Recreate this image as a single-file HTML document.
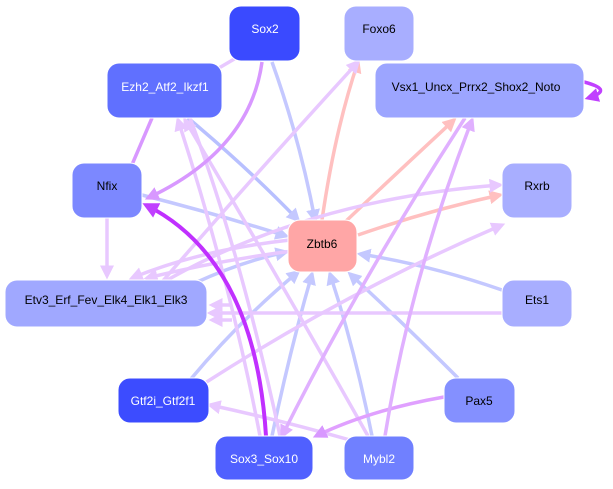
<!DOCTYPE html>
<html><head><style>
html,body{margin:0;padding:0;background:#fff;width:613px;height:489px;overflow:hidden}
svg{display:block}
text{font-family:"Liberation Sans",sans-serif;font-size:12px;text-anchor:middle;dominant-baseline:central}
</style></head><body>
<svg width="613" height="489" viewBox="0 0 613 489">
<defs>
<marker id="a1" markerWidth="4" markerHeight="4" refX="3" refY="2" orient="auto" markerUnits="strokeWidth"><path d="M0,0L4,2L0,4z" fill="#c4c8ff"/></marker>
<marker id="a2" markerWidth="4" markerHeight="4" refX="3" refY="2" orient="auto" markerUnits="strokeWidth"><path d="M0,0L4,2L0,4z" fill="#e8c8ff"/></marker>
<marker id="a3" markerWidth="4" markerHeight="4" refX="3" refY="2" orient="auto" markerUnits="strokeWidth"><path d="M0,0L4,2L0,4z" fill="#ffc0c0"/></marker>
<marker id="a4" markerWidth="4" markerHeight="4" refX="3" refY="2" orient="auto" markerUnits="strokeWidth"><path d="M0,0L4,2L0,4z" fill="#d898ff"/></marker>
<marker id="a5" markerWidth="4" markerHeight="4" refX="3" refY="2" orient="auto" markerUnits="strokeWidth"><path d="M0,0L4,2L0,4z" fill="#c040ff"/></marker>
<marker id="a6" markerWidth="4" markerHeight="4" refX="3" refY="2" orient="auto" markerUnits="strokeWidth"><path d="M0,0L4,2L0,4z" fill="#e0b0ff"/></marker>
</defs>
<g fill="none" stroke-width="3.5">
<path d="M272,62 Q300,140 315,220" stroke="#c4c8ff" marker-end="url(#a1)"/>
<path d="M188,118 Q250,170 298,220" stroke="#b8c0ff" marker-end="url(#a1)"/>
<path d="M142,195 Q220,215 286,236" stroke="#c4c8ff" marker-end="url(#a1)"/>
<path d="M502,290 Q430,265 360,254" stroke="#c4c8ff" marker-end="url(#a1)"/>
<path d="M195,283 Q240,262 286,252" stroke="#c4c8ff" marker-end="url(#a1)"/>
<path d="M190,380 Q240,320 298,272" stroke="#c4c8ff" marker-end="url(#a1)"/>
<path d="M272,436 Q290,350 312,274" stroke="#c4c8ff" marker-end="url(#a1)"/>
<path d="M372,436 Q355,350 330,274" stroke="#c4c8ff" marker-end="url(#a1)"/>
<path d="M458,378 Q400,320 350,274" stroke="#c4c8ff" marker-end="url(#a1)"/>
<path d="M322,220 Q335,130 358,62" stroke="#ffc0c0" marker-end="url(#a3)"/>
<path d="M345,222 Q400,170 454,120" stroke="#ffc0c0" marker-end="url(#a3)"/>
<path d="M358,235 Q430,210 500,195" stroke="#ffc0c0" marker-end="url(#a3)"/>
<path d="M236,58 L207,75" stroke="#e8c8ff" marker-end="url(#a2)"/>
<path d="M107,218 L107,276" stroke="#e8c8ff" marker-end="url(#a2)"/>
<path d="M155,290 Q250,180 358,62" stroke="#e8c8ff" marker-end="url(#a2)"/>
<path d="M150,290 Q300,200 500,185" stroke="#e8c8ff" marker-end="url(#a2)"/>
<path d="M502,313 L210,313" stroke="#e8c8ff" marker-end="url(#a2)"/>
<path d="M205,383 Q350,290 502,225" stroke="#e8c8ff" marker-end="url(#a2)"/>
<path d="M260,436 Q230,280 178,120" stroke="#e8c8ff" marker-end="url(#a2)"/>
<path d="M368,436 Q280,280 185,120" stroke="#e8c8ff" marker-end="url(#a2)"/>
<path d="M350,440 Q280,420 210,405" stroke="#e8c8ff" marker-end="url(#a2)"/>
<path d="M190,118 Q240,250 280,436" stroke="#e8c8ff"/>
<path d="M290,240 Q200,250 132,278" stroke="#e8c8ff" marker-end="url(#a2)"/>
<path d="M300,250 Q220,260 147,278" stroke="#e8c8ff" marker-end="url(#a2)"/>
<path d="M232,305 L212,305" stroke="#e8c8ff" marker-end="url(#a2)"/>
<path d="M232,320 L212,320" stroke="#e8c8ff" marker-end="url(#a2)"/>
<path d="M262,62 Q250,150 148,198" stroke="#d898ff" marker-end="url(#a4)"/>
<path d="M152,118 L122,188" stroke="#d898ff" marker-end="url(#a4)"/>
<path d="M444,397 Q370,410 316,436" stroke="#e0a0ff" marker-end="url(#a4)"/>
<path d="M385,436 Q410,280 472,120" stroke="#e0b0ff" marker-end="url(#a6)"/>
<path d="M465,118 Q360,280 282,436" stroke="#e0b0ff" marker-end="url(#a6)"/>
<path d="M266,436 Q255,260 146,205" stroke="#c030ff" stroke-width="4" marker-end="url(#a5)"/>
<path d="M584,82 Q615,90 588,98" stroke="#c040ff" marker-end="url(#a5)"/>
</g>
<g stroke="#fff" stroke-width="1">
<rect x="229" y="6" width="71" height="55" rx="12" fill="#3a4aff"/>
<rect x="344" y="6" width="70" height="55" rx="12" fill="#a8aeff"/>
<rect x="107" y="63" width="115" height="55" rx="12" fill="#6070ff"/>
<rect x="375" y="63" width="209" height="55" rx="12" fill="#9ca5ff"/>
<rect x="72" y="163" width="70" height="55" rx="12" fill="#7c88ff"/>
<rect x="502" y="163" width="70" height="55" rx="12" fill="#a8aeff"/>
<rect x="288" y="220" width="69" height="52" rx="12" fill="#ffa6a6"/>
<rect x="5" y="280" width="202" height="47" rx="12" fill="#a0a8ff"/>
<rect x="502" y="280" width="70" height="47" rx="12" fill="#a8aeff"/>
<rect x="118" y="378" width="91" height="45" rx="12" fill="#3c4cff"/>
<rect x="444" y="378" width="71" height="45" rx="12" fill="#8490ff"/>
<rect x="215" y="436" width="98" height="44" rx="12" fill="#5060ff"/>
<rect x="344" y="436" width="70" height="44" rx="12" fill="#7080ff"/>
</g>
<text x="265" y="29" fill="#fff">Sox2</text>
<text x="379" y="29" fill="#000">Foxo6</text>
<text x="165" y="87" fill="#fff">Ezh2_Atf2_Ikzf1</text>
<text x="476" y="87" fill="#000">Vsx1_Uncx_Prrx2_Shox2_Noto</text>
<text x="107" y="186" fill="#000">Nfix</text>
<text x="537" y="186" fill="#000">Rxrb</text>
<text x="322" y="244" fill="#000">Zbtb6</text>
<text x="106" y="300" fill="#000">Etv3_Erf_Fev_Elk4_Elk1_Elk3</text>
<text x="537" y="300" fill="#000">Ets1</text>
<text x="163" y="401" fill="#fff">Gtf2i_Gtf2f1</text>
<text x="479" y="401" fill="#000">Pax5</text>
<text x="264" y="459" fill="#fff">Sox3_Sox10</text>
<text x="379" y="459" fill="#fff">Mybl2</text>
</svg>
</body></html>
